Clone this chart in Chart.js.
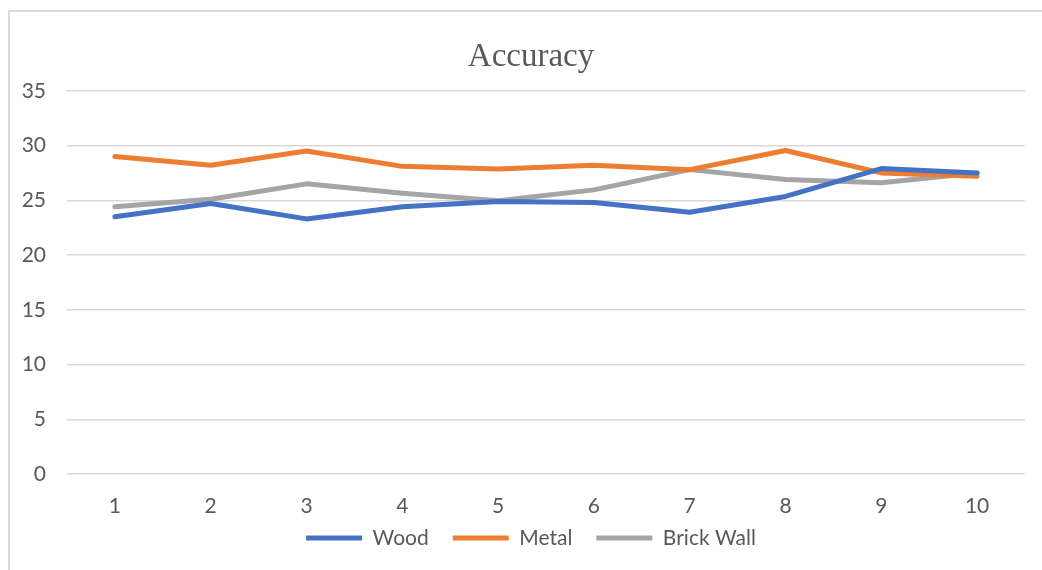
<!DOCTYPE html>
<html>
<head>
<meta charset="utf-8">
<script src="https://cdn.jsdelivr.net/npm/chart.js@4"></script>
<style>
  html, body { margin: 0; padding: 0; background: #ffffff; }
  #wrap { position: relative; width: 1042px; height: 570px; overflow: hidden; }
  #frame { position: absolute; left: 8px; top: 10px; width: 1100px; height: 600px;
           border-top: 2px solid #d9d9d9; border-left: 2px solid #d9d9d9; }
  #c { position: absolute; left: 0; top: 0; }
</style>
</head>
<body>
<div id="wrap">
  <div id="frame"></div>
  <canvas id="c" width="1042" height="570"></canvas>
</div>
<script>
const categories = ['1', '2', '3', '4', '5', '6', '7', '8', '9', '10'];
const woodValues = [23.5, 24.7, 23.3, 24.4, 24.9, 24.8, 23.9, 25.35, 27.9, 27.5];
const metalValues = [29.0, 28.2, 29.5, 28.1, 27.85, 28.2, 27.8, 29.55, 27.5, 27.2];
const brickValues = [24.4, 25.1, 26.5, 25.65, 24.95, 25.95, 27.8, 26.9, 26.6, 27.5];
const seriesNames = ['Wood', 'Metal', 'Brick Wall'];
const seriesColors = ['#4472C4', '#ED7D31', '#A5A5A5'];
const yTicks = { min: 0, max: 35, step: 5 };
const titleText = 'Accuracy';

const textColor = '#595959';
const tickFont = { family: 'Lato', size: 21 };

function ds(label, data, color) {
  return {
    label: label, data: data,
    borderColor: color, backgroundColor: color,
    borderWidth: 5, pointRadius: 0, pointHoverRadius: 0,
    tension: 0, borderJoinStyle: 'round', borderCapStyle: 'round', fill: false
  };
}

new Chart(document.getElementById('c'), {
  type: 'line',
  data: {
    labels: categories,
    datasets: [
      ds(seriesNames[0], woodValues, seriesColors[0]),
      ds(seriesNames[1], metalValues, seriesColors[1]),
      ds(seriesNames[2], brickValues, seriesColors[2])
    ]
  },
  options: {
    responsive: false,
    animation: false,
    devicePixelRatio: 1,
    layout: { padding: { left: 20, right: 0, top: 10, bottom: 11.5 } },
    plugins: {
      tooltip: { enabled: false },
      title: {
        display: true, text: titleText, color: textColor,
        font: { family: 'Liberation Serif', size: 33, weight: 'normal' },
        padding: { top: 27.5, bottom: 13.7 }
      },
      legend: {
        position: 'bottom',
        labels: {
          color: textColor, font: tickFont,
          boxWidth: 56, boxHeight: 5, padding: 24,
          generateLabels: function (chart) {
            const items = Chart.defaults.plugins.legend.labels.generateLabels(chart);
            items.forEach(function (it) { it.lineWidth = 0; });
            return items;
          }
        }
      }
    },
    scales: {
      x: {
        offset: true,
        grid: { display: false, drawTicks: false },
        border: { display: false },
        ticks: { color: textColor, font: tickFont, mirror: true, padding: -44.6, maxRotation: 0, autoSkip: false },
        afterFit: function (s) { s.height = 29.5; }
      },
      y: {
        min: yTicks.min, max: yTicks.max,
        grid: { color: '#d9d9d9', lineWidth: 1.5, drawTicks: false },
        border: { display: false },
        ticks: { stepSize: yTicks.step, color: textColor, font: tickFont, padding: 21 },
        afterFit: function (s) { s.width = 47; }
      },
      y2: {
        position: 'right',
        grid: { display: false, drawTicks: false },
        border: { display: false },
        ticks: { display: false },
        afterFit: function (s) { s.width = 17; }
      }
    }
  }
});
</script>
</body>
</html>
